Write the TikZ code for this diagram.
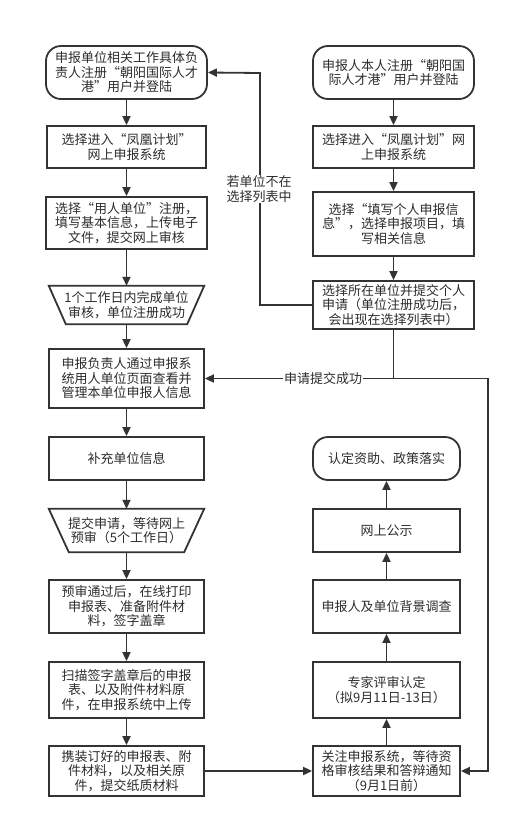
\documentclass[tikz,border=0pt]{standalone}
\usepackage{fontspec}
\newfontfamily\cjk{Noto Sans CJK SC}
\usetikzlibrary{arrows.meta,calc}
\definecolor{linec}{RGB}{51,51,51}
\definecolor{textc}{RGB}{45,45,45}
\begin{document}
\begin{tikzpicture}[x=1pt,y=-1pt,
  box/.style={draw=linec,line width=1.8pt,align=center,inner sep=0pt,text=textc,
    font=\cjk\fontsize{13}{14.5}\selectfont},
  term/.style={box,rounded corners=15pt},
  trap/.style={align=center,inner sep=0pt,text=textc,font=\cjk\fontsize{13}{14.5}\selectfont},
  arr/.style={draw=linec,line width=1.8pt,-{Triangle[length=9pt,width=8pt]}},
  ln/.style={draw=linec,line width=1.8pt},
  lab/.style={fill=white,inner sep=1pt,text=textc,align=center,font=\cjk\fontsize{13}{14.5}\selectfont}]
\useasboundingbox[fill=white] (0,0) rectangle (520,827);
% left column
\node[term,minimum width=161pt,minimum height=53pt] (l1) at (126.5,72.5) {申报单位相关工作具体负\\责人注册“朝阳国际人才\\港”用户并登陆};
\node[box,minimum width=159pt,minimum height=42pt] (l2) at (126.5,147) {选择进入“凤凰计划”\\网上申报系统};
\node[box,minimum width=161pt,minimum height=52pt] (l3) at (126.5,223) {选择“用人单位”注册，\\填写基本信息，上传电子\\文件，提交网上审核};
\node[trap,minimum width=155pt,minimum height=38pt] (t1) at (126.5,305) {1个工作日内完成单位\\审核，单位注册成功};
\draw[ln,line join=miter] (t1.north west) -- (t1.north east) -- ($(t1.south east)+(-17,0)$) -- ($(t1.south west)+(17,0)$) -- cycle;
\node[box,minimum width=155pt,minimum height=59pt] (l4) at (126.5,378.5) {申报负责人通过申报系\\统用人单位页面查看并\\管理本单位申报人信息};
\node[box,minimum width=155pt,minimum height=43pt] (l5) at (126.5,458.5) {补充单位信息};
\node[trap,minimum width=155pt,minimum height=43pt] (t2) at (126.5,530.5) {提交申请，等待网上\\预审（5个工作日）};
\draw[ln,line join=miter] (t2.north west) -- (t2.north east) -- ($(t2.south east)+(-20,0)$) -- ($(t2.south west)+(20,0)$) -- cycle;
\node[box,minimum width=155pt,minimum height=53pt] (l6) at (126.5,606.5) {预审通过后，在线打印\\申报表、准备附件材\\料，签字盖章};
\node[box,minimum width=155pt,minimum height=56pt] (l7) at (126.5,690) {扫描签字盖章后的申报\\表、以及附件材料原\\件，在申报系统中上传};
\node[box,minimum width=155pt,minimum height=50pt] (l8) at (126.5,771) {携装订好的申报表、附\\件材料，以及相关原\\件，提交纸质材料};
% right column
\node[term,minimum width=161pt,minimum height=53pt] (r1) at (393.5,72.5) {申报人本人注册“朝阳国\\际人才港”用户并登陆};
\node[box,minimum width=161pt,minimum height=42pt] (r2) at (393.5,147) {选择进入“凤凰计划”网\\上申报系统};
\node[box,minimum width=161pt,minimum height=64pt] (r3) at (393.5,224) {选择“填写个人申报信\\息”，选择申报项目，填\\写相关信息};
\node[box,minimum width=161pt,minimum height=48pt] (r4) at (393.5,305) {选择所在单位并提交个人\\申请（单位注册成功后，\\会出现在选择列表中）};
\node[term,minimum width=147pt,minimum height=43pt] (r9) at (386.5,458.5) {认定资助、政策落实};
\node[box,minimum width=147pt,minimum height=43pt] (r8) at (386.5,530.5) {网上公示};
\node[box,minimum width=147pt,minimum height=53pt] (r7) at (386.5,606.5) {申报人及单位背景调查};
\node[box,minimum width=147pt,minimum height=56pt] (r6) at (386.5,690) {专家评审认定\\（拟9月11日-13日）};
\node[box,minimum width=147pt,minimum height=50pt] (r5) at (386.5,771) {关注申报系统，等待资\\格审核结果和答辩通知\\（9月1日前）};
% coordinates
\coordinate (loopx) at (260,305);
\coordinate (loopt) at (260,73);
\coordinate (jn) at (393.5,378.5);
\coordinate (rc) at (488,378.5);
\coordinate (rb) at (488,771);
% arrows left
\draw[arr] (l1) -- (l2);
\draw[arr] (l2) -- (l3);
\draw[arr] (l3) -- (t1);
\draw[arr] (t1) -- (l4);
\draw[arr] (l4) -- (l5);
\draw[arr] (l5) -- (t2);
\draw[arr] (t2) -- (l6);
\draw[arr] (l6) -- (l7);
\draw[arr] (l7) -- (l8);
\draw[arr] (l8) -- (r5);
% arrows right
\draw[arr] (r1) -- (r2);
\draw[arr] (r2) -- (r3);
\draw[arr] (r3) -- (r4);
\draw[arr] (r5) -- (r6);
\draw[arr] (r6) -- (r7);
\draw[arr] (r7) -- (r8);
\draw[arr] (r8) -- (r9);
% loop back
\draw[arr] (r4.west) -- (loopx) -- (loopt) -- (l1.east);
\node[lab] (labA) at (259,189) {若单位不在\\选择列表中};
% submit success
\draw[ln] (r4.south) -- (jn);
\draw[arr] (jn) -- (l4.east);
\node[lab] (labB) at (323,378.5) {申请提交成功};
\draw[arr] (jn) -- (rc) -- (rb) -- (r5.east);
\end{tikzpicture}
\end{document}
